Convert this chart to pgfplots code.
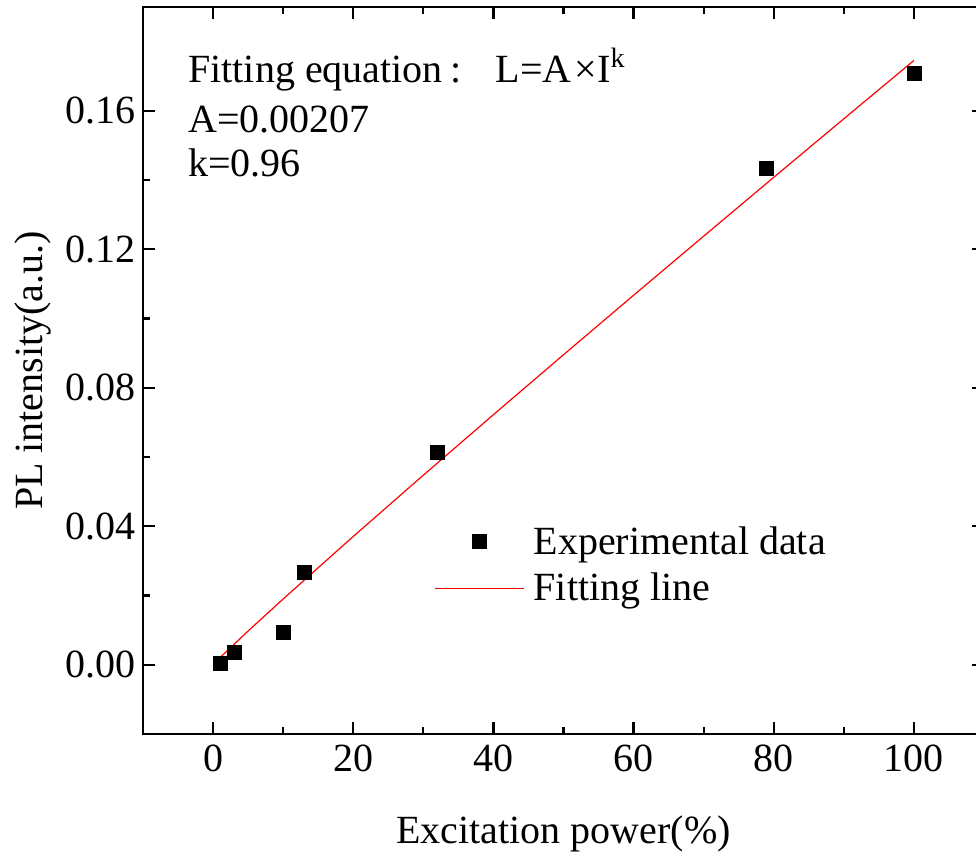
\documentclass[border=0pt]{standalone}
\usepackage{fontspec}
\setmainfont{Liberation Serif}
\usepackage{pgfplots}
\pgfplotsset{compat=1.18}

\pgfplotstableread{
x y
1 0.0005
3 0.0036
10 0.0094
13 0.0267
32 0.0614
79 0.1435
100 0.1709
}\expdata

\pgfplotstableread{
x y
1 0.00207
5 0.00975
10 0.01901
20 0.03706
30 0.05476
40 0.07224
50 0.08955
60 0.10673
70 0.12381
80 0.14080
90 0.15771
100 0.17456
}\fitdata

\newcommand{\fs}{\fontsize{20}{24}\selectfont}
\pgfplotsset{
  marklegend/.style={legend image code/.code={\draw[##1] plot coordinates {(22.25pt,0pt)};}},
  linelegend/.style={legend image code/.code={\draw[##1] (0pt,0pt) -- (44.5pt,0pt);}},
}

\begin{document}
\begin{tikzpicture}
\begin{axis}[
  name=ax,
  scale only axis,
  width=420.5pt, height=363.5pt,
  xmin=-10, xmax=110, ymin=-0.02, ymax=0.19,
  xtick={0,20,...,100},
  ytick={0,0.04,0.08,0.12,0.16},
  minor x tick num=1, minor y tick num=1,
  tick align=inside,
  xtick pos=both, ytick pos=both,
  xticklabel pos=lower, yticklabel pos=left,
  major tick length=6pt, minor tick length=3.5pt,
  every tick/.style={black, line width=1.1pt},
  axis line style={line width=1.2pt},
  scaled y ticks=false,
  yticklabel style={/pgf/number format/.cd, fixed, fixed zerofill, precision=2},
  /pgf/number format/assume math mode=true,
  tick label style={font=\fs},
  xticklabel style={yshift=-2pt},
  label style={font=\fs},
  xlabel={Excitation power(\%)},
  ylabel={PL intensity(a.u.)},
  xlabel style={at={(axis description cs:0.5,-0.150)}, anchor=base},
  ylabel style={at={(axis description cs:-0.119,0.5)}, anchor=base},
  legend style={draw=none, fill=none, font=\fs,
    at={(axis description cs:0.339,0.297)}, anchor=north west,
    row sep=4pt, /tikz/every odd column/.append style={column sep=2.5pt}},
  legend cell align=left,
]
\addplot[only marks, mark=square*, mark size=3.5pt, black, marklegend]
  table[x=x,y=y]{\expdata};
\addlegendentry{Experimental data}
\addplot[red, line width=0.6pt, no marks, linelegend]
  table[x=x,y=y]{\fitdata};
\addlegendentry{Fitting line}

\node[anchor=base west, font=\fs, inner sep=0pt] at (axis description cs:0.0535,0.8955)
  {Fitting equation\hspace{4pt}:\hspace{17pt}L=A\hspace{1.5pt}×I\textsuperscript{k}};
\node[anchor=base west, font=\fs, inner sep=0pt] at (axis description cs:0.0535,0.8267) {A=0.00207};
\node[anchor=base west, font=\fs, inner sep=0pt] at (axis description cs:0.0535,0.7662) {k=0.96};
\end{axis}
\pgfresetboundingbox
\path[use as bounding box] (-71.5pt,-62.5pt) rectangle (416.5pt,367pt);
\end{tikzpicture}
\end{document}
